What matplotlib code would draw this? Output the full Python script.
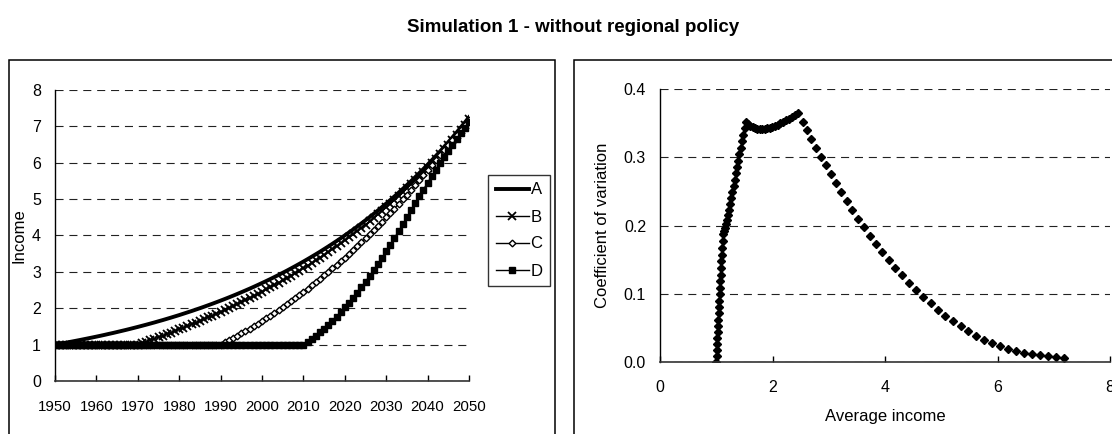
import matplotlib
matplotlib.use('Agg')
import matplotlib.pyplot as plt
from matplotlib.patches import Rectangle
import numpy as np

plt.rcParams['font.family'] = ['Liberation Sans Narrow', 'Liberation Sans', 'DejaVu Sans']
plt.rcParams['lines.scale_dashes'] = False

# --- data ---
years = list(range(1950, 2051))

income_a = [
    1.000, 1.020, 1.040, 1.061, 1.082, 1.104, 1.126, 1.149, 1.172, 1.195,
    1.219, 1.243, 1.268, 1.294, 1.319, 1.346, 1.373, 1.400, 1.428, 1.457,
    1.486, 1.516, 1.546, 1.577, 1.608, 1.641, 1.673, 1.707, 1.741, 1.776,
    1.811, 1.848, 1.885, 1.922, 1.961, 2.000, 2.040, 2.081, 2.122, 2.165,
    2.208, 2.252, 2.297, 2.343, 2.390, 2.438, 2.487, 2.536, 2.587, 2.639,
    2.692, 2.745, 2.800, 2.856, 2.913, 2.972, 3.031, 3.092, 3.154, 3.217,
    3.281, 3.347, 3.414, 3.482, 3.551, 3.623, 3.695, 3.769, 3.844, 3.921,
    4.000, 4.080, 4.161, 4.244, 4.329, 4.416, 4.504, 4.594, 4.686, 4.780,
    4.875, 4.973, 5.072, 5.174, 5.277, 5.383, 5.490, 5.600, 5.712, 5.826,
    5.943, 6.062, 6.183, 6.306, 6.433, 6.561, 6.692, 6.826, 6.963, 7.102,
    7.245,
]

income_b = [1.0] * 20 + [
    1.000, 1.040, 1.079, 1.120, 1.160, 1.203, 1.244, 1.287, 1.331, 1.375,
    1.419, 1.465, 1.511, 1.557, 1.604, 1.652, 1.700, 1.749, 1.798, 1.849,
    1.900, 1.952, 2.004, 2.058, 2.112, 2.167, 2.223, 2.279, 2.336, 2.395,
    2.454, 2.514, 2.575, 2.636, 2.699, 2.764, 2.829, 2.895, 2.962, 3.030,
    3.100, 3.170, 3.242, 3.315, 3.388, 3.465, 3.541, 3.619, 3.698, 3.779,
    3.862, 3.946, 4.031, 4.118, 4.206, 4.296, 4.387, 4.481, 4.576, 4.673,
    4.771, 4.872, 4.974, 5.079, 5.184, 5.293, 5.402, 5.514, 5.629, 5.746,
    5.865, 5.986, 6.109, 6.234, 6.364, 6.493, 6.626, 6.762, 6.900, 7.041,
    7.186,
]

income_c = [1.0] * 40 + [
    1.000, 1.060, 1.121, 1.183, 1.246, 1.310, 1.375, 1.442, 1.510, 1.579,
    1.650, 1.722, 1.796, 1.872, 1.950, 2.030, 2.112, 2.195, 2.280, 2.366,
    2.453, 2.541, 2.630, 2.720, 2.811, 2.903, 2.997, 3.093, 3.191, 3.290,
    3.391, 3.494, 3.598, 3.704, 3.811, 3.920, 4.031, 4.144, 4.259, 4.376,
    4.495, 4.616, 4.739, 4.864, 4.991, 5.120, 5.251, 5.384, 5.519, 5.656,
    5.795, 5.930, 6.066, 6.203, 6.341, 6.480, 6.620, 6.760, 6.900, 7.040,
    7.180,
]

income_d = [1.0] * 60 + [
    1.00, 1.08, 1.16, 1.25, 1.34, 1.44, 1.54, 1.65, 1.77, 1.89,
    2.02, 2.15, 2.29, 2.43, 2.58, 2.73, 2.89, 3.05, 3.22, 3.39,
    3.57, 3.75, 3.93, 4.12, 4.31, 4.50, 4.69, 4.88, 5.07, 5.26,
    5.45, 5.63, 5.81, 5.98, 6.15, 6.32, 6.48, 6.64, 6.80, 6.96,
    7.12,
]

region_labels = ['A', 'B', 'C', 'D']
year_ticks = list(range(1950, 2051, 10))

# right panel: average income and coefficient of variation of the four regions
incomes = np.array([income_a, income_b, income_c, income_d])
avg_income = incomes.mean(axis=0)
coef_var = incomes.std(axis=0) / avg_income

W, H = 1112, 434
FS = 11.5
fig = plt.figure(figsize=(W / 100, H / 100), dpi=100)

# panel frames (cut off by the figure edge, as in the original)
fig.patches.append(Rectangle((8.6 / W, -0.1), (555 - 8.6) / W, 1 - 60 / H + 0.1,
                             transform=fig.transFigure, fill=False,
                             edgecolor='black', linewidth=1.1))
fig.patches.append(Rectangle((573.5 / W, -0.1), 0.6, 1 - 60 / H + 0.1,
                             transform=fig.transFigure, fill=False,
                             edgecolor='black', linewidth=1.1))

fig.text(573 / W, 1 - 27 / H, 'Simulation 1 - without regional policy',
         ha='center', va='center', fontsize=13.5, fontweight='bold')

grid_kw = dict(color='#222222', linewidth=0.8, linestyle=(0, (5.8, 4.2)))


def style_axes(ax):
    for side in ['top', 'right']:
        ax.spines[side].set_visible(False)
    ax.spines['left'].set_color('black')
    ax.spines['bottom'].set_color('#333333')
    ax.spines['left'].set_linewidth(1.0)
    ax.spines['bottom'].set_linewidth(1.2)
    ax.tick_params(axis='x', direction='in', length=4, width=1, pad=13, labelsize=FS)
    ax.tick_params(axis='y', length=0, pad=10, labelsize=FS)
    ax.set_axisbelow(True)


# --- left: income paths ---
ax1 = fig.add_axes([55 / W, 1 - 381 / H, (469 - 55) / W, (381 - 89.8) / H])
ax1.plot(years, income_a, color='black', linewidth=2.8, label=region_labels[0])
ax1.plot(years, income_b, color='black', linewidth=1.0, marker='x',
         markersize=5.5, markeredgewidth=1.3, label=region_labels[1])
ax1.plot(years, income_c, color='black', linewidth=1.0, marker='D',
         markersize=3.4, markerfacecolor='white', markeredgecolor='black',
         markeredgewidth=1.0, label=region_labels[2])
ax1.plot(years, income_d, color='black', linewidth=1.0, marker='s',
         markersize=5, label=region_labels[3])
ax1.set_xlim(1950, 2050)
ax1.set_ylim(0, 8)
ax1.set_xticks(year_ticks)
ax1.set_yticks(range(0, 9))
ax1.yaxis.grid(True, **grid_kw)
ax1.set_ylabel('Income', fontsize=FS + 0.5, labelpad=4)
style_axes(ax1)
ax1.tick_params(axis='x', labelsize=10.8, pad=14)

leg = fig.legend(loc='upper left', bbox_to_anchor=(488 / W, 1 - 175 / H),
                 fontsize=FS + 0.5, frameon=True, fancybox=False, edgecolor='black',
                 handlelength=2.0, handletextpad=0.1, labelspacing=0.72,
                 borderpad=0.45, borderaxespad=0)
leg.get_frame().set_linewidth(1.0)

# --- right: coefficient of variation vs average income ---
ax2 = fig.add_axes([660 / W, 1 - 362 / H, 450 / W, (362 - 89.3) / H])
ax2.plot(avg_income, coef_var, linestyle='none', marker='D', markersize=4,
         color='black')
ax2.set_xlim(0, 8)
ax2.set_ylim(0, 0.4)
ax2.set_xticks([0, 2, 4, 6, 8])
ax2.set_yticks([0.0, 0.1, 0.2, 0.3, 0.4])
ax2.set_yticklabels(['0.0', '0.1', '0.2', '0.3', '0.4'])
ax2.yaxis.grid(True, **grid_kw)
ax2.set_xlabel('Average income', fontsize=FS + 0.5, labelpad=10)
ax2.set_ylabel('Coefficient of variation', fontsize=FS + 0.5, labelpad=10)
style_axes(ax2)

fig.savefig('out.png', dpi=100)
